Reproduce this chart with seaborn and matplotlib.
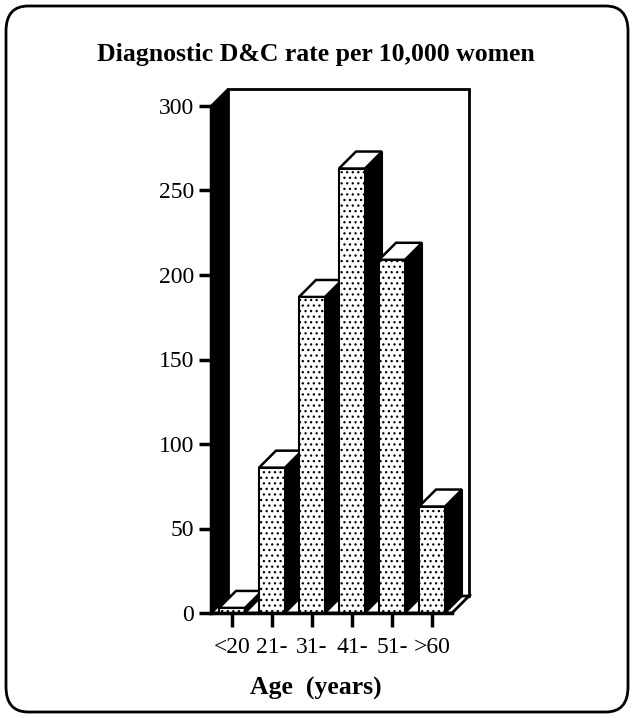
import matplotlib
matplotlib.use("Agg")
import matplotlib.pyplot as plt
import seaborn as sns
import pandas as pd
from matplotlib.patches import Polygon, Rectangle, FancyBboxPatch

# data
age_groups = ['<20', '21-', '31-', '41-', '51-', '>60']
dc_rate = [3, 86, 187, 263, 209, 63]

df = pd.DataFrame({'Age': age_groups, 'Rate': dc_rate})

sns.set_style("white")
plt.rcParams['font.family'] = ['Liberation Serif', 'DejaVu Serif']
plt.rcParams['text.color'] = 'black'
plt.rcParams['xtick.color'] = 'black'
plt.rcParams['ytick.color'] = 'black'
plt.rcParams['hatch.linewidth'] = 0.9
plt.rcParams['hatch.color'] = '#333333'

W, H = 634, 718
fig = plt.figure(figsize=(W / 100, H / 100), dpi=100)

# front plane of the 3d box in pixels
x_left, x_right = 211, 452
y_bot, y_top = 613, 106
ax = fig.add_axes([x_left / W, 1 - y_bot / H, (x_right - x_left) / W, (y_bot - y_top) / H])

sns.barplot(data=df, x='Age', y='Rate', color='white', edgecolor='black',
            linewidth=1.5, width=0.65, hatch='...', saturation=1, ax=ax, zorder=3)

ax.set_xlim(-0.525, 5.5)
ax.set_ylim(0, 300)
ax.set_yticks(range(0, 301, 50))

# depth offset (17 px right, 17 px up) in data units
dx = 17 / 40
dy = 17 * 300 / (y_bot - y_top)

# back wall, left wall and floor
back = Rectangle((-0.525 + dx, dy), 5.5 + 0.525, 300, facecolor='white',
                 edgecolor='black', lw=2, zorder=0.5, clip_on=False)
ax.add_patch(back)
left_wall = Polygon([(-0.525, 0), (-0.525 + dx, dy), (-0.525 + dx, 300 + dy), (-0.525, 300)],
                    closed=True, facecolor='black', edgecolor='black', lw=1.5, zorder=1, clip_on=False)
ax.add_patch(left_wall)
floor = Polygon([(-0.525, 0), (-0.525 + dx, dy), (5.5 + dx, dy), (5.5, 0)],
                closed=True, facecolor='white', edgecolor='black', lw=2, zorder=1, clip_on=False)
ax.add_patch(floor)

# 3d sides and tops for each bar
for i, p in enumerate(ax.patches[:len(age_groups)]):
    x0 = p.get_x()
    x1 = x0 + p.get_width()
    h = p.get_height()
    p.set_zorder(2.05 + 0.1 * i)
    side = Polygon([(x1, 0), (x1 + dx, dy), (x1 + dx, h + dy), (x1, h)], closed=True,
                   facecolor='black', edgecolor='black', lw=1.5, zorder=2 + 0.1 * i, clip_on=False)
    top = Polygon([(x0, h), (x0 + dx, h + dy), (x1 + dx, h + dy), (x1, h)], closed=True,
                  facecolor='white', edgecolor='black', lw=1.8, zorder=2.02 + 0.1 * i, clip_on=False)
    ax.add_patch(side)
    ax.add_patch(top)

for s in ['top', 'right']:
    ax.spines[s].set_visible(False)
for s in ['left', 'bottom']:
    ax.spines[s].set_linewidth(2.5)
    ax.spines[s].set_color('black')
    ax.spines[s].set_zorder(4)

ax.tick_params(axis='both', direction='out', length=9, width=2.5, color='black',
               labelcolor='black', labelsize=17, pad=3, bottom=True, left=True)
ax.tick_params(axis='x', length=10, pad=7)
ax.set_xlabel('')
ax.set_ylabel('')

fig.text(316 / W, 1 - 55 / H, 'Diagnostic D&C rate per 10,000 women', ha='center', va='center',
         fontsize=18.5, fontweight='bold', color='black')
fig.text(316 / W, 1 - 688 / H, 'Age  (years)', ha='center', va='center',
         fontsize=18.5, fontweight='bold', color='black')

# rounded border around the whole figure
border = FancyBboxPatch((6 / W, 6 / H), (W - 12) / W, (H - 12) / H,
                        boxstyle='round,pad=0,rounding_size=0.035', transform=fig.transFigure,
                        facecolor='none', edgecolor='black', lw=2)
fig.patches.append(border)

fig.savefig('out.png', dpi=100)
